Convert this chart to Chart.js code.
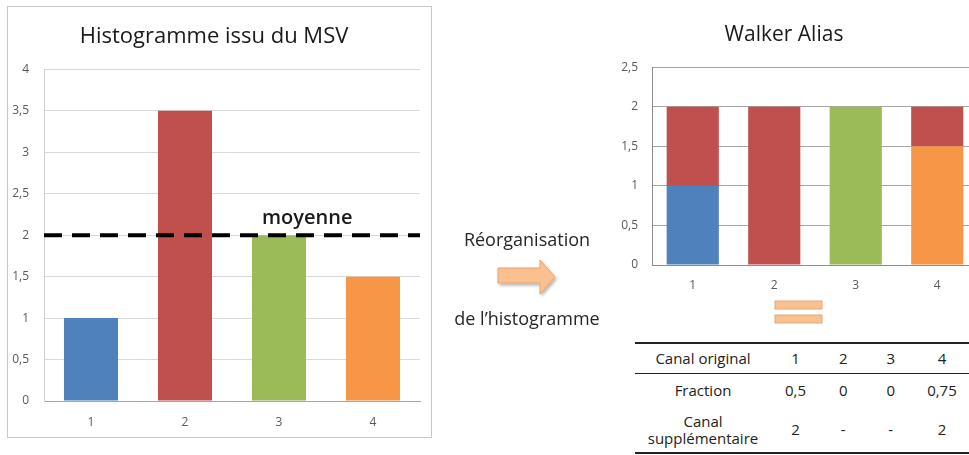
<!DOCTYPE html>
<html lang="fr">
<head>
<meta charset="utf-8">
<title>Histogramme et Walker Alias</title>
<script src="https://cdn.jsdelivr.net/npm/chart.js@4.4.1/dist/chart.umd.min.js"></script>
<style>
  html, body { margin: 0; padding: 0; background: #fff; }
  body { width: 969px; height: 455px; position: relative; overflow: hidden; font-family: "Open Sans", sans-serif; color: #262626; }
  #boiteHisto { position: absolute; left: 7px; top: 6px; width: 423px; height: 430px; border: 1px solid #c8c8c8; }
  #boiteAlias { position: absolute; left: 590px; top: 0; width: 400px; height: 300px; }
  .texte { position: absolute; font-size: 18px; text-align: center; width: 200px; }
  #fleche { position: absolute; left: 494px; top: 256px; }
  #egal { position: absolute; left: 774px; top: 300px; }
  #tableau { position: absolute; left: 635px; top: 342px; border-collapse: collapse; font-size: 15px; color: #222; }
  #tableau td { text-align: center; padding: 0; line-height: 17px; }
  #tableau tr.entete td { height: 29px; border-top: 2px solid #222; border-bottom: 1.5px solid #222; }
  #tableau tr.frac td { height: 33px; }
  #tableau tr.supp td { height: 45px; border-bottom: 2px solid #222; }
</style>
</head>
<body>

<div id="boiteHisto"><canvas id="histo" width="423" height="430"></canvas></div>
<div id="boiteAlias"><canvas id="alias" width="400" height="300"></canvas></div>

<div class="texte" style="left:427px; top:227px;">Réorganisation</div>
<svg id="fleche" width="70" height="46">
  <defs>
    <filter id="ombre" x="-20%" y="-20%" width="150%" height="160%">
      <feDropShadow dx="1.5" dy="2" stdDeviation="1.5" flood-color="#000" flood-opacity="0.3"/>
    </filter>
  </defs>
  <polygon points="4,12 46,12 46,4 61,21 46,38 46,27 4,27" fill="#fac090" stroke="#e8a36a" stroke-width="1" filter="url(#ombre)"/>
</svg>
<div class="texte" style="left:427px; top:306px;">de l’histogramme</div>

<svg id="egal" width="50" height="26">
  <rect x="1" y="1" width="47" height="8" fill="#fac090" stroke="#e3a878" stroke-width="1"/>
  <rect x="1" y="15" width="47" height="8" fill="#fac090" stroke="#e3a878" stroke-width="1"/>
</svg>

<table id="tableau">
  <colgroup><col style="width:137px"><col style="width:50px"><col style="width:48px"><col style="width:50px"><col style="width:55px"></colgroup>
  <tr class="entete" id="ligneCanal"></tr>
  <tr class="frac" id="ligneFraction"></tr>
  <tr class="supp" id="ligneSupp"></tr>
</table>

<script>
// histogramme de départ
var canaux = ['1', '2', '3', '4'];
var valeursMSV = [1, 3.5, 2, 1.5];
var moyenne = 2;

// histogramme réorganisé (empilé)
var partCanal1 = [1, null, null, null];
var partCanal3 = [null, null, 2, null];
var partCanal4 = [null, null, null, 1.5];
var partCanal2 = [1, 2, null, 0.5];

// tableau des alias
var fractions = ['0,5', '0', '0', '0,75'];
var canalSupp = ['2', '-', '-', '2'];

var bleu = '#4f81bd', rouge = '#c0504d', vert = '#9bbb59', orange = '#f79646';

function virgule(v) { return String(v).replace('.', ','); }

function remplirLigne(id, titre, valeurs) {
  var tr = document.getElementById(id);
  var html = '<td>' + titre + '</td>';
  valeurs.forEach(function (v) { html += '<td>' + v + '</td>'; });
  tr.innerHTML = html;
}
remplirLigne('ligneCanal', 'Canal original', canaux);
remplirLigne('ligneFraction', 'Fraction', fractions);
remplirLigne('ligneSupp', 'Canal<br>supplémentaire', canalSupp);

Chart.defaults.font.family = '"Open Sans", sans-serif';
Chart.defaults.color = '#595959';
Chart.defaults.animation = false;

// ligne pointillée de la moyenne + étiquette
var ligneMoyenne = {
  id: 'ligneMoyenne',
  afterDatasetsDraw: function (chart) {
    var ctx = chart.ctx, area = chart.chartArea;
    var y = chart.scales.y.getPixelForValue(moyenne);
    ctx.save();
    ctx.strokeStyle = '#000';
    ctx.lineWidth = 4;
    ctx.setLineDash([18, 10]);
    ctx.beginPath();
    ctx.moveTo(area.left, y);
    ctx.lineTo(area.right, y);
    ctx.stroke();
    ctx.setLineDash([]);
    ctx.fillStyle = '#1a1a1a';
    ctx.font = '600 20px "Open Sans", sans-serif';
    ctx.textAlign = 'center';
    ctx.textBaseline = 'alphabetic';
    ctx.fillText('moyenne', area.left + area.width * 0.7, y - 11);
    ctx.restore();
  }
};

new Chart(document.getElementById('histo'), {
  type: 'bar',
  data: {
    labels: canaux,
    datasets: [{
      data: valeursMSV,
      backgroundColor: [bleu, rouge, vert, orange],
      barPercentage: 0.575,
      categoryPercentage: 1
    }]
  },
  options: {
    responsive: false,
    layout: { padding: { left: 0, right: 11, top: 0, bottom: 0 } },
    plugins: {
      legend: { display: false },
      tooltip: { enabled: false },
      title: {
        display: true,
        text: 'Histogramme issu du MSV',
        color: '#1a1a1a',
        font: { size: 22, weight: 'normal', lineHeight: 1.2 },
        padding: { top: 17, bottom: 19 }
      }
    },
    scales: {
      x: {
        grid: { display: false, drawTicks: false, tickLength: 0 },
        border: { display: true, color: '#a6a6a6' },
        ticks: { padding: 14, font: { size: 12 } },
        afterFit: function (s) { s.height = 36; }
      },
      y: {
        min: 0, max: 4,
        ticks: { stepSize: 0.5, padding: 15, font: { size: 12 }, callback: virgule },
        grid: { color: '#d9d9d9', drawTicks: false, tickLength: 0 },
        border: { display: true, color: '#d0d0d0' },
        afterFit: function (s) { s.width = 36; }
      }
    }
  },
  plugins: [ligneMoyenne]
});

new Chart(document.getElementById('alias'), {
  type: 'bar',
  data: {
    labels: canaux,
    datasets: [
      { data: partCanal1, backgroundColor: bleu },
      { data: partCanal3, backgroundColor: vert },
      { data: partCanal4, backgroundColor: orange },
      { data: partCanal2, backgroundColor: rouge }
    ]
  },
  options: {
    responsive: false,
    datasets: { bar: { barPercentage: 0.64, categoryPercentage: 1 } },
    layout: { padding: { left: 0, right: 12, top: 0, bottom: 0 } },
    plugins: {
      legend: { display: false },
      tooltip: { enabled: false },
      title: {
        display: true,
        text: 'Walker Alias',
        color: '#1a1a1a',
        font: { size: 21, weight: 'normal', lineHeight: 1.2 },
        padding: { top: 22, bottom: 20 }
      }
    },
    scales: {
      x: {
        stacked: true,
        grid: { display: false, drawTicks: false, tickLength: 0 },
        border: { display: true, color: '#8c8c8c' },
        ticks: { padding: 13, font: { size: 12 } },
        afterFit: function (s) { s.height = 35; }
      },
      y: {
        stacked: true,
        min: 0, max: 2.5,
        ticks: { stepSize: 0.5, padding: 14, font: { size: 12 }, callback: virgule },
        grid: { color: '#a6a6a6', drawTicks: false, tickLength: 0 },
        border: { display: true, color: '#8c8c8c' },
        afterFit: function (s) { s.width = 62; }
      }
    }
  }
});
</script>
</body>
</html>
